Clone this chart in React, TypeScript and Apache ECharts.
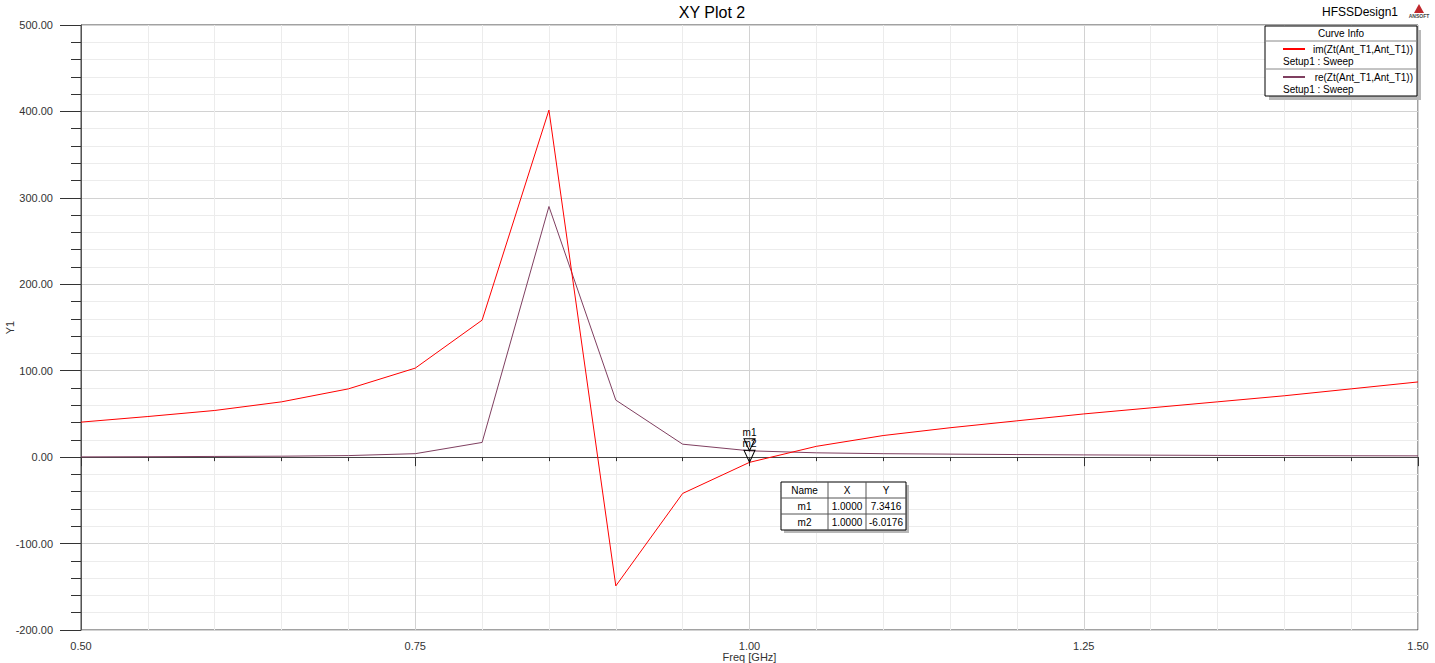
import React, { useEffect, useRef } from "react";
import * as echarts from "echarts";

const freqs = [0.5, 0.55, 0.6, 0.65, 0.7, 0.75, 0.8, 0.85, 0.9, 0.95, 1.0, 1.05, 1.1, 1.15, 1.2, 1.25, 1.3, 1.35, 1.4, 1.45, 1.5];
const imZt = [40.5, 47, 54, 64, 79, 103, 158.5, 401.5, -149, -42, -6.0176, 12.5, 25, 34, 42, 50, 57, 64, 71, 79, 87];
const reZt = [0.3, 0.5, 0.8, 1.1, 1.8, 4, 17, 290, 66, 15, 7.3416, 5, 4, 3.5, 3, 2.6, 2.3, 2, 1.8, 1.6, 1.5];

const seriesNames = ["im(Zt(Ant_T1,Ant_T1))", "re(Zt(Ant_T1,Ant_T1))"];
const seriesSetup = "Setup1 : Sweep";
const seriesColors = ["#ff0000", "#7f3f60"];

const markerNames = ["m1", "m2"];
const markerX = [1.0, 1.0];
const markerY = [7.3416, -6.0176];
const markerSeries = [1, 0];

const yTicks = { min: -200, max: 500, interval: 100 };
const xTicks = { min: 0.5, max: 1.5, interval: 0.25 };

const FONT = "Liberation Sans, Arial, sans-serif";

export default function App() {
  const ref = useRef<HTMLDivElement>(null);
  useEffect(() => {
    if (!ref.current) return;
    const chart = echarts.init(ref.current, null, { renderer: "svg" });
    const valueSets = [imZt, reZt];

    const series = valueSets.map((vals, si) => ({
      type: "line",
      name: seriesNames[si],
      data: freqs.map((f, i) => [f, vals[i]]),
      showSymbol: false,
      symbol: "none",
      lineStyle: { color: seriesColors[si], width: 1 },
      itemStyle: { color: seriesColors[si] },
      z: si === 0 ? 3 : 2,
      markPoint: {
        symbol: "triangle",
        symbolRotate: 180,
        symbolSize: [11, 12],
        symbolOffset: [0, -6],
        itemStyle: { color: "rgba(255,255,255,0)", borderColor: "#000", borderWidth: 1 },
        label: {
          show: true,
          position: "top",
          distance: 1,
          color: "#000",
          fontFamily: FONT,
          fontSize: 10,
          formatter: (p: any) => p.name,
        },
        data: markerNames
          .map((n, mi) => ({ n, mi }))
          .filter((o) => markerSeries[o.mi] === si)
          .map((o) => ({ name: o.n, coord: [markerX[o.mi], markerY[o.mi]] })),
      },
    }));

    const Z = 100;
    // marker table
    const tx = 781, ty = 482, colW = [47, 38, 40], rowH = 16;
    const tw = colW.reduce((a, b) => a + b, 0);
    const th = rowH * (markerNames.length + 1);
    const tableEls: any[] = [
      { type: "rect", z: Z, shape: { x: tx + 3, y: ty + 3, width: tw, height: th }, style: { fill: "#b8b8b8" } },
      { type: "rect", z: Z + 1, shape: { x: tx, y: ty, width: tw, height: th }, style: { fill: "#fff", stroke: "#000", lineWidth: 1 } },
    ];
    const headers = ["Name", "X", "Y"];
    let cx = tx;
    colW.forEach((w, ci) => {
      if (ci > 0) tableEls.push({ type: "line", z: Z + 2, shape: { x1: cx, y1: ty, x2: cx, y2: ty + th }, style: { stroke: "#555", lineWidth: 1 } });
      tableEls.push({ type: "text", z: Z + 3, style: { text: headers[ci], x: cx + w / 2, y: ty + rowH / 2, align: "center", verticalAlign: "middle", font: `10px ${FONT}`, fill: "#000" } });
      markerNames.forEach((n, ri) => {
        const txt = ci === 0 ? n : ci === 1 ? markerX[ri].toFixed(4) : markerY[ri].toFixed(4);
        tableEls.push({ type: "text", z: Z + 3, style: { text: txt, x: cx + w / 2, y: ty + rowH * (ri + 1) + rowH / 2, align: "center", verticalAlign: "middle", font: `10px ${FONT}`, fill: "#000" } });
      });
      cx += w;
    });
    markerNames.forEach((_, ri) => {
      const yy = ty + rowH * (ri + 1);
      tableEls.push({ type: "line", z: Z + 2, shape: { x1: tx, y1: yy, x2: tx + tw, y2: yy }, style: { stroke: "#555", lineWidth: 1 } });
    });

    // legend box
    const lx = 1265, ly = 26, lw = 152, lh = 70;
    const legendEls: any[] = [
      { type: "rect", z: Z, shape: { x: lx + 4, y: ly + 4, width: lw, height: lh }, style: { fill: "#b8b8b8" } },
      { type: "rect", z: Z + 1, shape: { x: lx, y: ly, width: lw, height: lh }, style: { fill: "#fff", stroke: "#000", lineWidth: 1 } },
      { type: "text", z: Z + 3, style: { text: "Curve Info", x: lx + lw / 2, y: ly + 7, align: "center", verticalAlign: "middle", font: `10px ${FONT}`, fill: "#000" } },
      { type: "line", z: Z + 2, shape: { x1: lx, y1: ly + 15, x2: lx + lw, y2: ly + 15 }, style: { stroke: "#888", lineWidth: 1 } },
    ];
    seriesNames.forEach((n, si) => {
      const by = ly + 15 + si * 28;
      legendEls.push({ type: "line", z: Z + 2, shape: { x1: lx + 18, y1: by + 8, x2: lx + 40, y2: by + 8 }, style: { stroke: seriesColors[si], lineWidth: 2 } });
      legendEls.push({ type: "text", z: Z + 3, style: { text: n, x: lx + lw - 4, y: by + 8, align: "right", verticalAlign: "middle", font: `10px ${FONT}`, fill: "#000" } });
      legendEls.push({ type: "text", z: Z + 3, style: { text: seriesSetup, x: lx + 18, y: by + 20, align: "left", verticalAlign: "middle", font: `10px ${FONT}`, fill: "#000" } });
      if (si === 0) legendEls.push({ type: "line", z: Z + 2, shape: { x1: lx, y1: by + 28, x2: lx + lw, y2: by + 28 }, style: { stroke: "#888", lineWidth: 1 } });
    });

    const option: any = {
      animation: false,
      backgroundColor: "#fff",
      grid: { left: 81, right: 17, top: 25, bottom: 33, containLabel: false, outerBoundsMode: "none", show: true, borderColor: "#444", borderWidth: 1, backgroundColor: "transparent" },
      xAxis: {
        type: "value",
        min: xTicks.min,
        max: xTicks.max,
        interval: xTicks.interval,
        name: "Freq [GHz]",
        nameLocation: "middle",
        nameGap: 21,
        nameMoveOverlap: false,
        nameTextStyle: { fontFamily: FONT, fontSize: 11, color: "#333" },
        axisLine: { show: true, lineStyle: { color: "#444" } },
        axisTick: { show: true, length: 9, lineStyle: { color: "#333" } },
        minorTick: { show: true, splitNumber: 5, length: 4, lineStyle: { color: "#333" } },
        axisLabel: { fontFamily: FONT, fontSize: 11, color: "#333", margin: 10, formatter: (v: number) => v.toFixed(2), showMinLabel: true, showMaxLabel: true },
        splitLine: { show: true, lineStyle: { color: "#d2d2d2", width: 1 } },
        minorSplitLine: { show: true, lineStyle: { color: "#ececec", width: 1 } },
      },
      yAxis: {
        type: "value",
        min: yTicks.min,
        max: yTicks.max,
        interval: yTicks.interval,
        name: "Y1",
        nameLocation: "middle",
        nameGap: 66,
        nameMoveOverlap: false,
        nameTextStyle: { fontFamily: FONT, fontSize: 11, color: "#333" },
        axisLine: { show: true, lineStyle: { color: "#555" } },
        axisTick: { show: true, length: 21, lineStyle: { color: "#333" } },
        minorTick: { show: true, splitNumber: 5, length: 10, lineStyle: { color: "#333" } },
        axisLabel: { fontFamily: FONT, fontSize: 11, color: "#333", margin: 28, formatter: (v: number) => v.toFixed(2) },
        splitLine: { show: true, lineStyle: { color: "#d2d2d2", width: 1 } },
        minorSplitLine: { show: true, lineStyle: { color: "#ececec", width: 1 } },
      },
      series,
      graphic: [
        { type: "text", z: Z, style: { text: "XY Plot 2", x: 712, y: 12, align: "center", verticalAlign: "middle", font: `16px ${FONT}`, fill: "#000" } },
        { type: "text", z: Z, style: { text: "HFSSDesign1", x: 1398, y: 12, align: "right", verticalAlign: "middle", font: `12px ${FONT}`, fill: "#000" } },
        { type: "polygon", z: Z, shape: { points: [[1419, 4], [1414, 13], [1424, 13]] }, style: { fill: "#c0282d" } },
        { type: "text", z: Z, style: { text: "ANSOFT", x: 1419, y: 16, align: "center", verticalAlign: "middle", font: `bold 5px ${FONT}`, fill: "#444" } },
        ...legendEls,
        ...tableEls,
      ],
    };
    chart.setOption(option);
    return () => chart.dispose();
  }, []);
  return <div ref={ref} style={{ position: "fixed", left: 0, top: 0, width: 1435, height: 663 }} />;
}
